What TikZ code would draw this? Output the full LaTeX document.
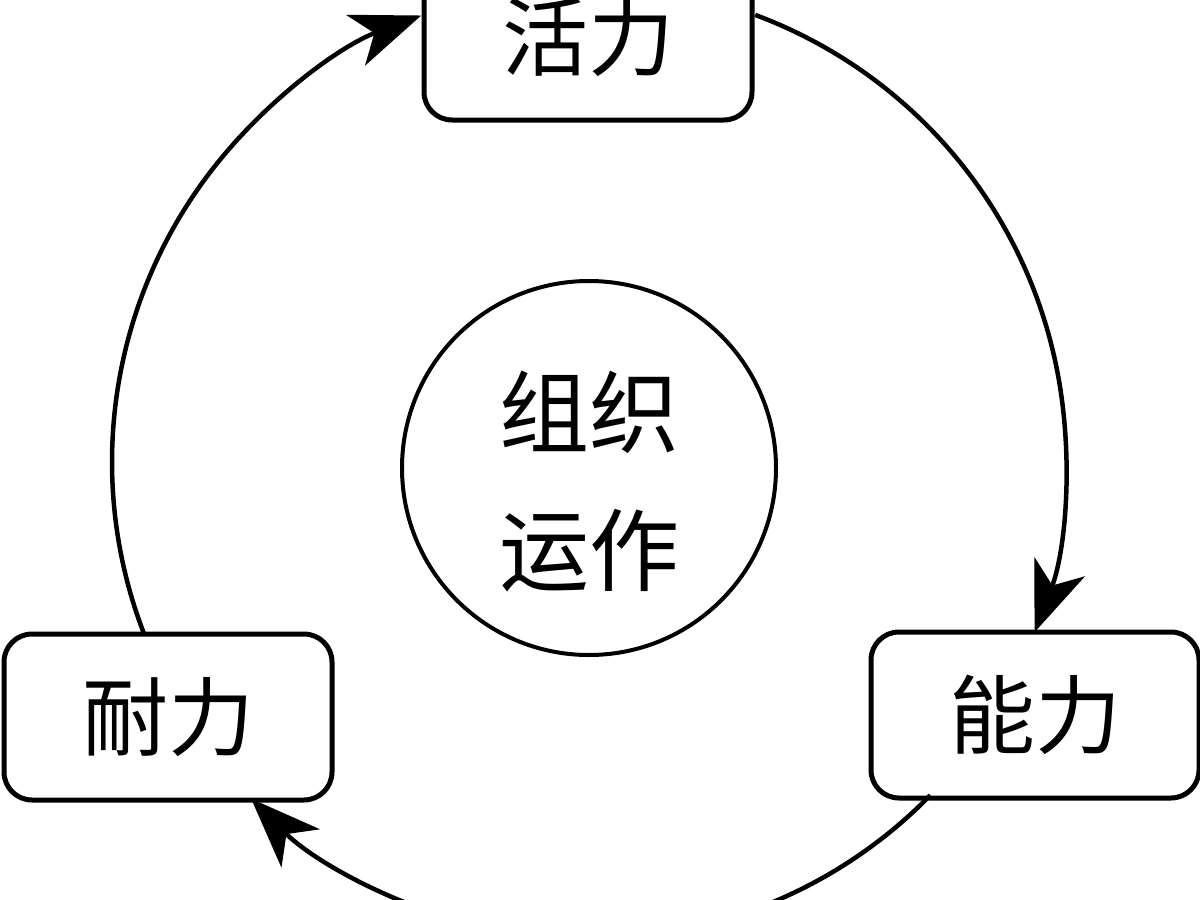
\documentclass[tikz,border=0pt]{standalone}
\usepackage{fontspec}
\newfontfamily\cjk{Noto Sans CJK SC}
\usetikzlibrary{arrows.meta}
\begin{document}
\begin{tikzpicture}[x=1pt,y=-1pt,
  box/.style={draw, line width=5pt, rounded corners=28pt, minimum width=328pt, minimum height=166pt, fill=white, inner sep=0pt, font=\cjk\fontsize{86}{100}\selectfont},
  ring/.style={line width=4.5pt, -{Stealth[length=70pt,width=54pt,inset=20pt]}},
  hub/.style={circle, draw, line width=4pt, minimum size=374pt, inner sep=0pt},
  hubtext/.style={align=center, inner sep=0pt, font=\cjk\fontsize{90}{138}\selectfont}]
\useasboundingbox (0,0) rectangle (1200,900);
\coordinate (C) at (589,462);
\node[box] (top) at (588,37) {活力};
\node[box] (left) at (168,717) {耐力};
\node[box] (right) at (1035,715) {能力};
\node[hub] (org) at (589,468) {};
\node[hubtext] (orgtext) at (589,481) {组织\\运作};
% connectors along the big ring, from box to box
\draw[ring] ([shift={(158.8:477)}]C) arc[start angle=158.8, end angle=249.4, radius=477];
\draw[ring] ([shift={(290.4:477)}]C) arc[start angle=290.4, end angle=380.9, radius=477];
\draw[ring] ([shift={(44.3:477)}]C) arc[start angle=44.3, end angle=135.1, radius=477];
\end{tikzpicture}
\end{document}
